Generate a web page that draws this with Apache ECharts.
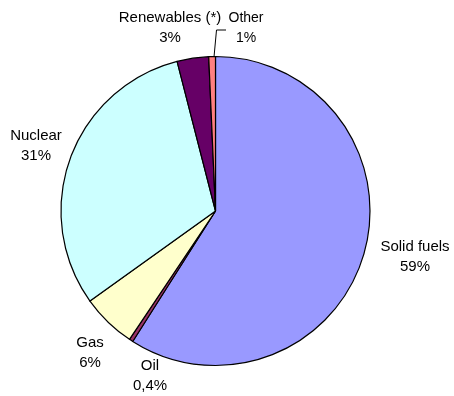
<!DOCTYPE html>
<html>
<head>
<meta charset="utf-8">
<script src="https://cdn.jsdelivr.net/npm/echarts@6/dist/echarts.min.js"></script>
<style>
html,body{margin:0;padding:0;background:#fff;}
#chart{width:454px;height:396px;}
</style>
</head>
<body>
<div id="chart"></div>
<script>
var categories = ['Solid fuels', 'Oil', 'Gas', 'Nuclear', 'Renewables (*)', 'Other'];
var values = [59.0, 0.4, 5.7, 30.9, 3.3, 0.7];
var percentLabels = ['59%', '0,4%', '6%', '31%', '3%', '1%'];
var colors = ['#9999FF', '#993366', '#FFFFCC', '#CCFFFF', '#660066', '#FF8080'];

// label block centres (layout only)
var labelPos = [[415, 257], [150, 376], [90, 353], [36, 146], [170, 28], [246, 28]];

var chart = echarts.init(document.getElementById('chart'), null, {renderer: 'canvas'});
var data = categories.map(function (c, i) {
  var item = {name: c, value: values[i], itemStyle: {color: colors[i]}};
  if (i === 5) {
    item.label = {fontSize: 14, lineHeight: 20};
    item.labelLine = {show: true, lineStyle: {color: '#000', width: 1}};
  }
  return item;
});
chart.setOption({
  animation: false,
  backgroundColor: '#fff',
  series: [{
    type: 'pie',
    center: [215.5, 211],
    radius: 154.5,
    startAngle: 90,
    clockwise: true,
    avoidLabelOverlap: false,
    minAngle: 0,
    itemStyle: {borderColor: '#000', borderWidth: 1.2},
    emphasis: {disabled: true},
    label: {
      show: true,
      position: 'outside',
      color: '#000',
      fontFamily: 'Liberation Sans, Arial, sans-serif',
      fontSize: 15,
      lineHeight: 20,
      align: 'center',
      formatter: function (p) { return p.name + '\n' + percentLabels[p.dataIndex]; }
    },
    labelLine: {show: false},
    labelLayout: function (p) {
      var pos = labelPos[p.dataIndex];
      var o = {x: pos[0], y: pos[1], align: 'center', verticalAlign: 'middle'};
      if (p.dataIndex === 5) {
        o.labelLinePoints = [[214, 57], [216.5, 30], [226, 30]];
      }
      return o;
    },
    data: data
  }]
});
</script>
</body>
</html>
